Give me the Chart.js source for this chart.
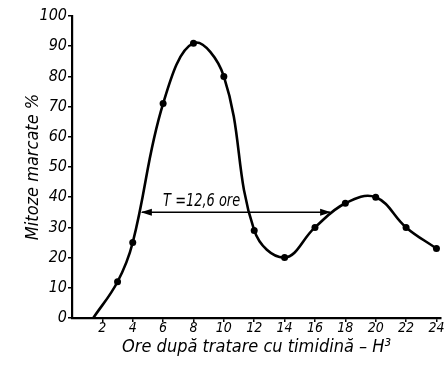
<!DOCTYPE html>
<html>
<head>
<meta charset="utf-8">
<script src="https://cdn.jsdelivr.net/npm/chart.js@4"></script>
<style>
  html, body { margin: 0; padding: 0; background: #fff; }
  #wrap { width: 445px; height: 366px; position: relative; }
</style>
</head>
<body>
<div id="wrap"><canvas id="chart"></canvas></div>
<script>
// Data
const hours = [1.4, 3, 4, 6, 8, 10, 12, 14, 16, 18, 20, 22, 24];
const mitoses = [0, 12, 25, 71, 91, 80, 29, 20, 30, 38, 40, 30, 23];
const xTicks = [2, 4, 6, 8, 10, 12, 14, 16, 18, 20, 22, 24];
const yTicks = [0, 10, 20, 30, 40, 50, 60, 70, 80, 90, 100];

// Arrow marking the period T
const arrowFrom = 4.6;
const arrowTo = 17.0;
const arrowLevel = 35;
const arrowText = 'T =12,6 ore';
const arrowTextAt = { x: 6.0, y: 37 };

const FONT = '"DejaVu Sans Condensed", "DejaVu Sans", sans-serif';

// Function to draw arrowheads and the period label
const arrowPlugin = {
    id: 'arrowPlugin',
    afterDatasetsDraw(chart) {
        const ctx = chart.ctx;
        const xs = chart.scales.x;
        const ys = chart.scales.y;
        const x1 = xs.getPixelForValue(arrowFrom);
        const x2 = xs.getPixelForValue(arrowTo);
        const y = ys.getPixelForValue(arrowLevel);
        ctx.save();
        ctx.fillStyle = '#000';
        // right arrowhead
        ctx.beginPath();
        ctx.moveTo(x2 + 1, y);
        ctx.lineTo(x2 - 10, y - 3.5);
        ctx.lineTo(x2 - 10, y + 3.5);
        ctx.closePath();
        ctx.fill();
        // left arrowhead
        ctx.beginPath();
        ctx.moveTo(x1 - 1, y);
        ctx.lineTo(x1 + 10, y - 3.5);
        ctx.lineTo(x1 + 10, y + 3.5);
        ctx.closePath();
        ctx.fill();
        // label, squeezed to the narrow lettering of the original
        ctx.font = 'italic 18px ' + FONT;
        ctx.textAlign = 'left';
        ctx.textBaseline = 'alphabetic';
        ctx.translate(xs.getPixelForValue(arrowTextAt.x), ys.getPixelForValue(arrowTextAt.y));
        ctx.scale(0.8, 1);
        ctx.fillText(arrowText, 0, 0);
        ctx.restore();
    }
};

const ctx = document.getElementById('chart').getContext('2d');
new Chart(ctx, {
    type: 'scatter',
    data: {
        datasets: [{
            label: 'Mitoze marcate',
            data: hours.map((h, i) => ({ x: h, y: mitoses[i] })),
            showLine: true,
            borderColor: '#000',
            backgroundColor: '#000',
            borderWidth: 2.6,
            tension: 0.4,
            pointRadius: hours.map((h, i) => i === 0 ? 0 : 3.5),
            pointBorderWidth: 0
        }, {
            label: 'T',
            data: [{ x: arrowFrom, y: arrowLevel }, { x: arrowTo, y: arrowLevel }],
            showLine: true,
            borderColor: '#000',
            borderWidth: 1.5,
            pointRadius: 0
        }]
    },
    options: {
        responsive: true,
        maintainAspectRatio: false,
        animation: false,
        layout: { padding: { top: 16, right: 0, left: 0, bottom: 0 } },
        plugins: {
            legend: { display: false },
            tooltip: { enabled: false }
        },
        scales: {
            x: {
                type: 'linear',
                min: 0,
                max: 24.3,
                afterFit: (s) => { s.height = 48; },
                afterBuildTicks: (s) => { s.ticks = xTicks.map(v => ({ value: v })); },
                border: { display: true, color: '#000', width: 2.2 },
                grid: { display: true, drawOnChartArea: false, drawTicks: true, tickLength: 4, color: '#000', lineWidth: 1.5 },
                ticks: {
                    color: '#000',
                    padding: -2,
                    maxRotation: 0,
                    autoSkip: false,
                    font: { family: FONT, size: 14, style: 'italic' }
                },
                title: {
                    display: true,
                    text: 'Ore după tratare cu timidină – H³',
                    color: '#000',
                    padding: { top: 0, bottom: 8 },
                    font: { family: FONT, size: 18, style: 'italic' }
                }
            },
            y: {
                min: 0,
                max: 100,
                afterFit: (s) => { s.width = 72; },
                afterBuildTicks: (s) => { s.ticks = yTicks.map(v => ({ value: v })); },
                border: { display: true, color: '#000', width: 2.2 },
                grid: { display: true, drawOnChartArea: false, drawTicks: true, tickLength: 4, color: '#000', lineWidth: 1.5 },
                ticks: {
                    color: '#000',
                    padding: 1,
                    autoSkip: false,
                    font: { family: FONT, size: 16, style: 'italic' }
                },
                title: {
                    display: true,
                    text: 'Mitoze marcate %',
                    color: '#000',
                    padding: { top: 23, bottom: 0 },
                    font: { family: FONT, size: 18, style: 'italic' }
                }
            }
        }
    },
    plugins: [arrowPlugin]
});
</script>
</body>
</html>
